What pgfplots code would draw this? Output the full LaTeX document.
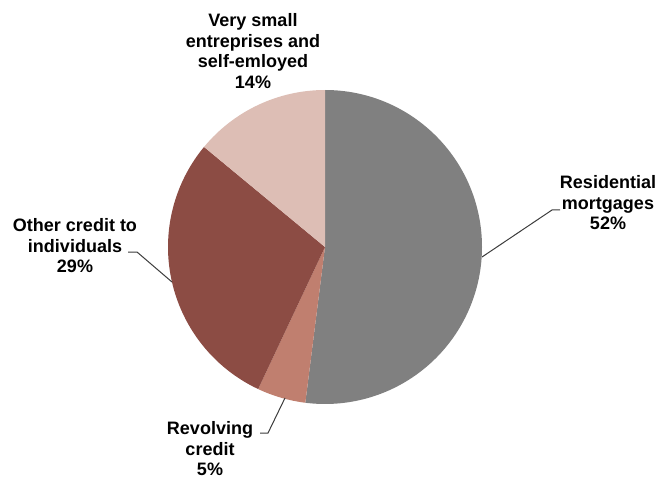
\documentclass[border=0pt]{standalone}
\usepackage{fontspec}
\setmainfont{Liberation Sans}
\usepackage{pgfplots}
\pgfplotsset{compat=1.18}
\definecolor{cRes}{RGB}{128,128,128}
\definecolor{cRev}{RGB}{192,127,111}
\definecolor{cOth}{RGB}{140,76,68}
\definecolor{cVsm}{RGB}{221,190,181}
\definecolor{cLine}{RGB}{60,60,60}
% shares in percent
\def\vRes{52}
\def\vRev{5}
\def\vOth{29}
\def\vVsm{14}
\pgfmathsetmacro{\aA}{90}
\pgfmathsetmacro{\aB}{\aA-3.6*\vRes}
\pgfmathsetmacro{\aC}{\aB-3.6*\vRev}
\pgfmathsetmacro{\aD}{\aC-3.6*\vOth}
\pgfmathsetmacro{\aE}{\aD-3.6*\vVsm}
\begin{document}
\begin{tikzpicture}
\begin{axis}[
  scale only axis, width=664pt, height=480pt,
  xmin=0, xmax=664, ymin=0, ymax=480,
  hide axis, clip=false,
]
\fill[cRes] (axis cs:325,233) -- ++(\aA:157pt) arc[start angle=\aA, end angle=\aB, radius=157pt] -- cycle;
\fill[cRev] (axis cs:325,233) -- ++(\aB:157pt) arc[start angle=\aB, end angle=\aC, radius=157pt] -- cycle;
\fill[cOth] (axis cs:325,233) -- ++(\aC:157pt) arc[start angle=\aC, end angle=\aD, radius=157pt] -- cycle;
\fill[cVsm] (axis cs:325,233) -- ++(\aD:157pt) arc[start angle=\aD, end angle=\aE, radius=157pt] -- cycle;
\draw[cLine, line width=1pt] (axis cs:560,270) -- (axis cs:552,270) -- (axis cs:482,223);
\draw[cLine, line width=1pt] (axis cs:128,228) -- (axis cs:137,228) -- (axis cs:172,198);
\draw[cLine, line width=1pt] (axis cs:260,47) -- (axis cs:268,47) -- (axis cs:285,82);
\tikzset{lab/.style={align=center, inner sep=0pt, font=\fontsize{18}{20.5}\selectfont\bfseries}}
\node[lab] at (axis cs:253,429) {Very small\\entreprises and\\self-emloyed\\14\%};
\node[lab] at (axis cs:608,277) {Residential\\mortgages\\52\%};
\node[lab] at (axis cs:75,234) {Other credit to\\individuals\\29\%};
\node[lab] at (axis cs:210,31) {Revolving\\credit\\5\%};
\end{axis}
\pgfresetboundingbox
\path (0,0) rectangle (664pt,480pt);
\end{tikzpicture}
\end{document}
